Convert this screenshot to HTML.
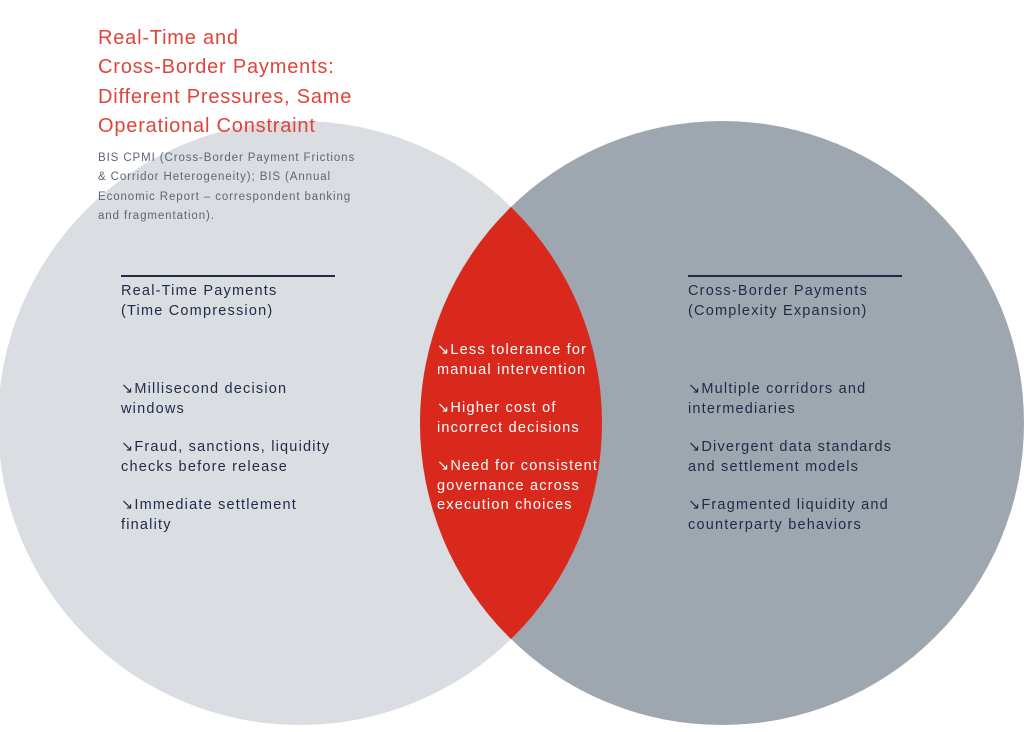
<!DOCTYPE html>
<html><head><meta charset="utf-8"><style>
body{margin:0;width:1024px;height:732px;background:#fff;position:relative;overflow:hidden;font-family:"Liberation Sans",sans-serif}
.t{position:absolute;white-space:nowrap}
.title{left:98px;top:24px;color:#e0443a;font-size:20px;line-height:29.3px;letter-spacing:0.8px}
.src{left:98px;top:149px;color:#5b6678;font-size:11.5px;line-height:19.3px;letter-spacing:0.9px}
.h,.b{color:#1f2b45;font-size:14.5px;line-height:19.5px;letter-spacing:1.2px}
.w{color:#fff;font-size:14.5px;line-height:19.5px;letter-spacing:1.2px}
</style></head><body>
<svg width="1024" height="732" style="position:absolute;left:0;top:0">
<defs><clipPath id="c"><circle cx="300" cy="423" r="302"/></clipPath></defs>
<circle cx="300" cy="423" r="302" fill="#dadee2"/>
<circle cx="722" cy="423" r="302" fill="#9ea6b0"/>
<circle cx="722" cy="423" r="302" fill="#d9291c" clip-path="url(#c)"/>
<line x1="121" y1="276" x2="335" y2="276" stroke="#1f2b45" stroke-width="2"/>
<line x1="688" y1="276" x2="902" y2="276" stroke="#1f2b45" stroke-width="2"/>
</svg>
<div class="t title">Real-Time and<br>Cross-Border Payments:<br>Different Pressures, Same<br>Operational Constraint</div>
<div class="t src">BIS CPMI (Cross-Border Payment Frictions<br>&amp; Corridor Heterogeneity); BIS (Annual<br>Economic Report – correspondent banking<br>and fragmentation).</div>
<div class="t h" style="left:121px;top:282px">Real-Time Payments<br>(Time Compression)</div>
<div class="t h" style="left:688px;top:282px">Cross-Border Payments<br>(Complexity Expansion)</div>
<div class="t b" style="left:121px;top:380px">↘Millisecond decision<br>windows</div>
<div class="t b" style="left:121px;top:438px">↘Fraud, sanctions, liquidity<br>checks before release</div>
<div class="t b" style="left:121px;top:496px">↘Immediate settlement<br>finality</div>
<div class="t b" style="left:688px;top:380px">↘Multiple corridors and<br>intermediaries</div>
<div class="t b" style="left:688px;top:438px">↘Divergent data standards<br>and settlement models</div>
<div class="t b" style="left:688px;top:496px">↘Fragmented liquidity and<br>counterparty behaviors</div>
<div class="t w" style="left:437px;top:341px">↘Less tolerance for<br>manual intervention</div>
<div class="t w" style="left:437px;top:399px">↘Higher cost of<br>incorrect decisions</div>
<div class="t w" style="left:437px;top:457px">↘Need for consistent<br>governance across<br>execution choices</div>
</body></html>
